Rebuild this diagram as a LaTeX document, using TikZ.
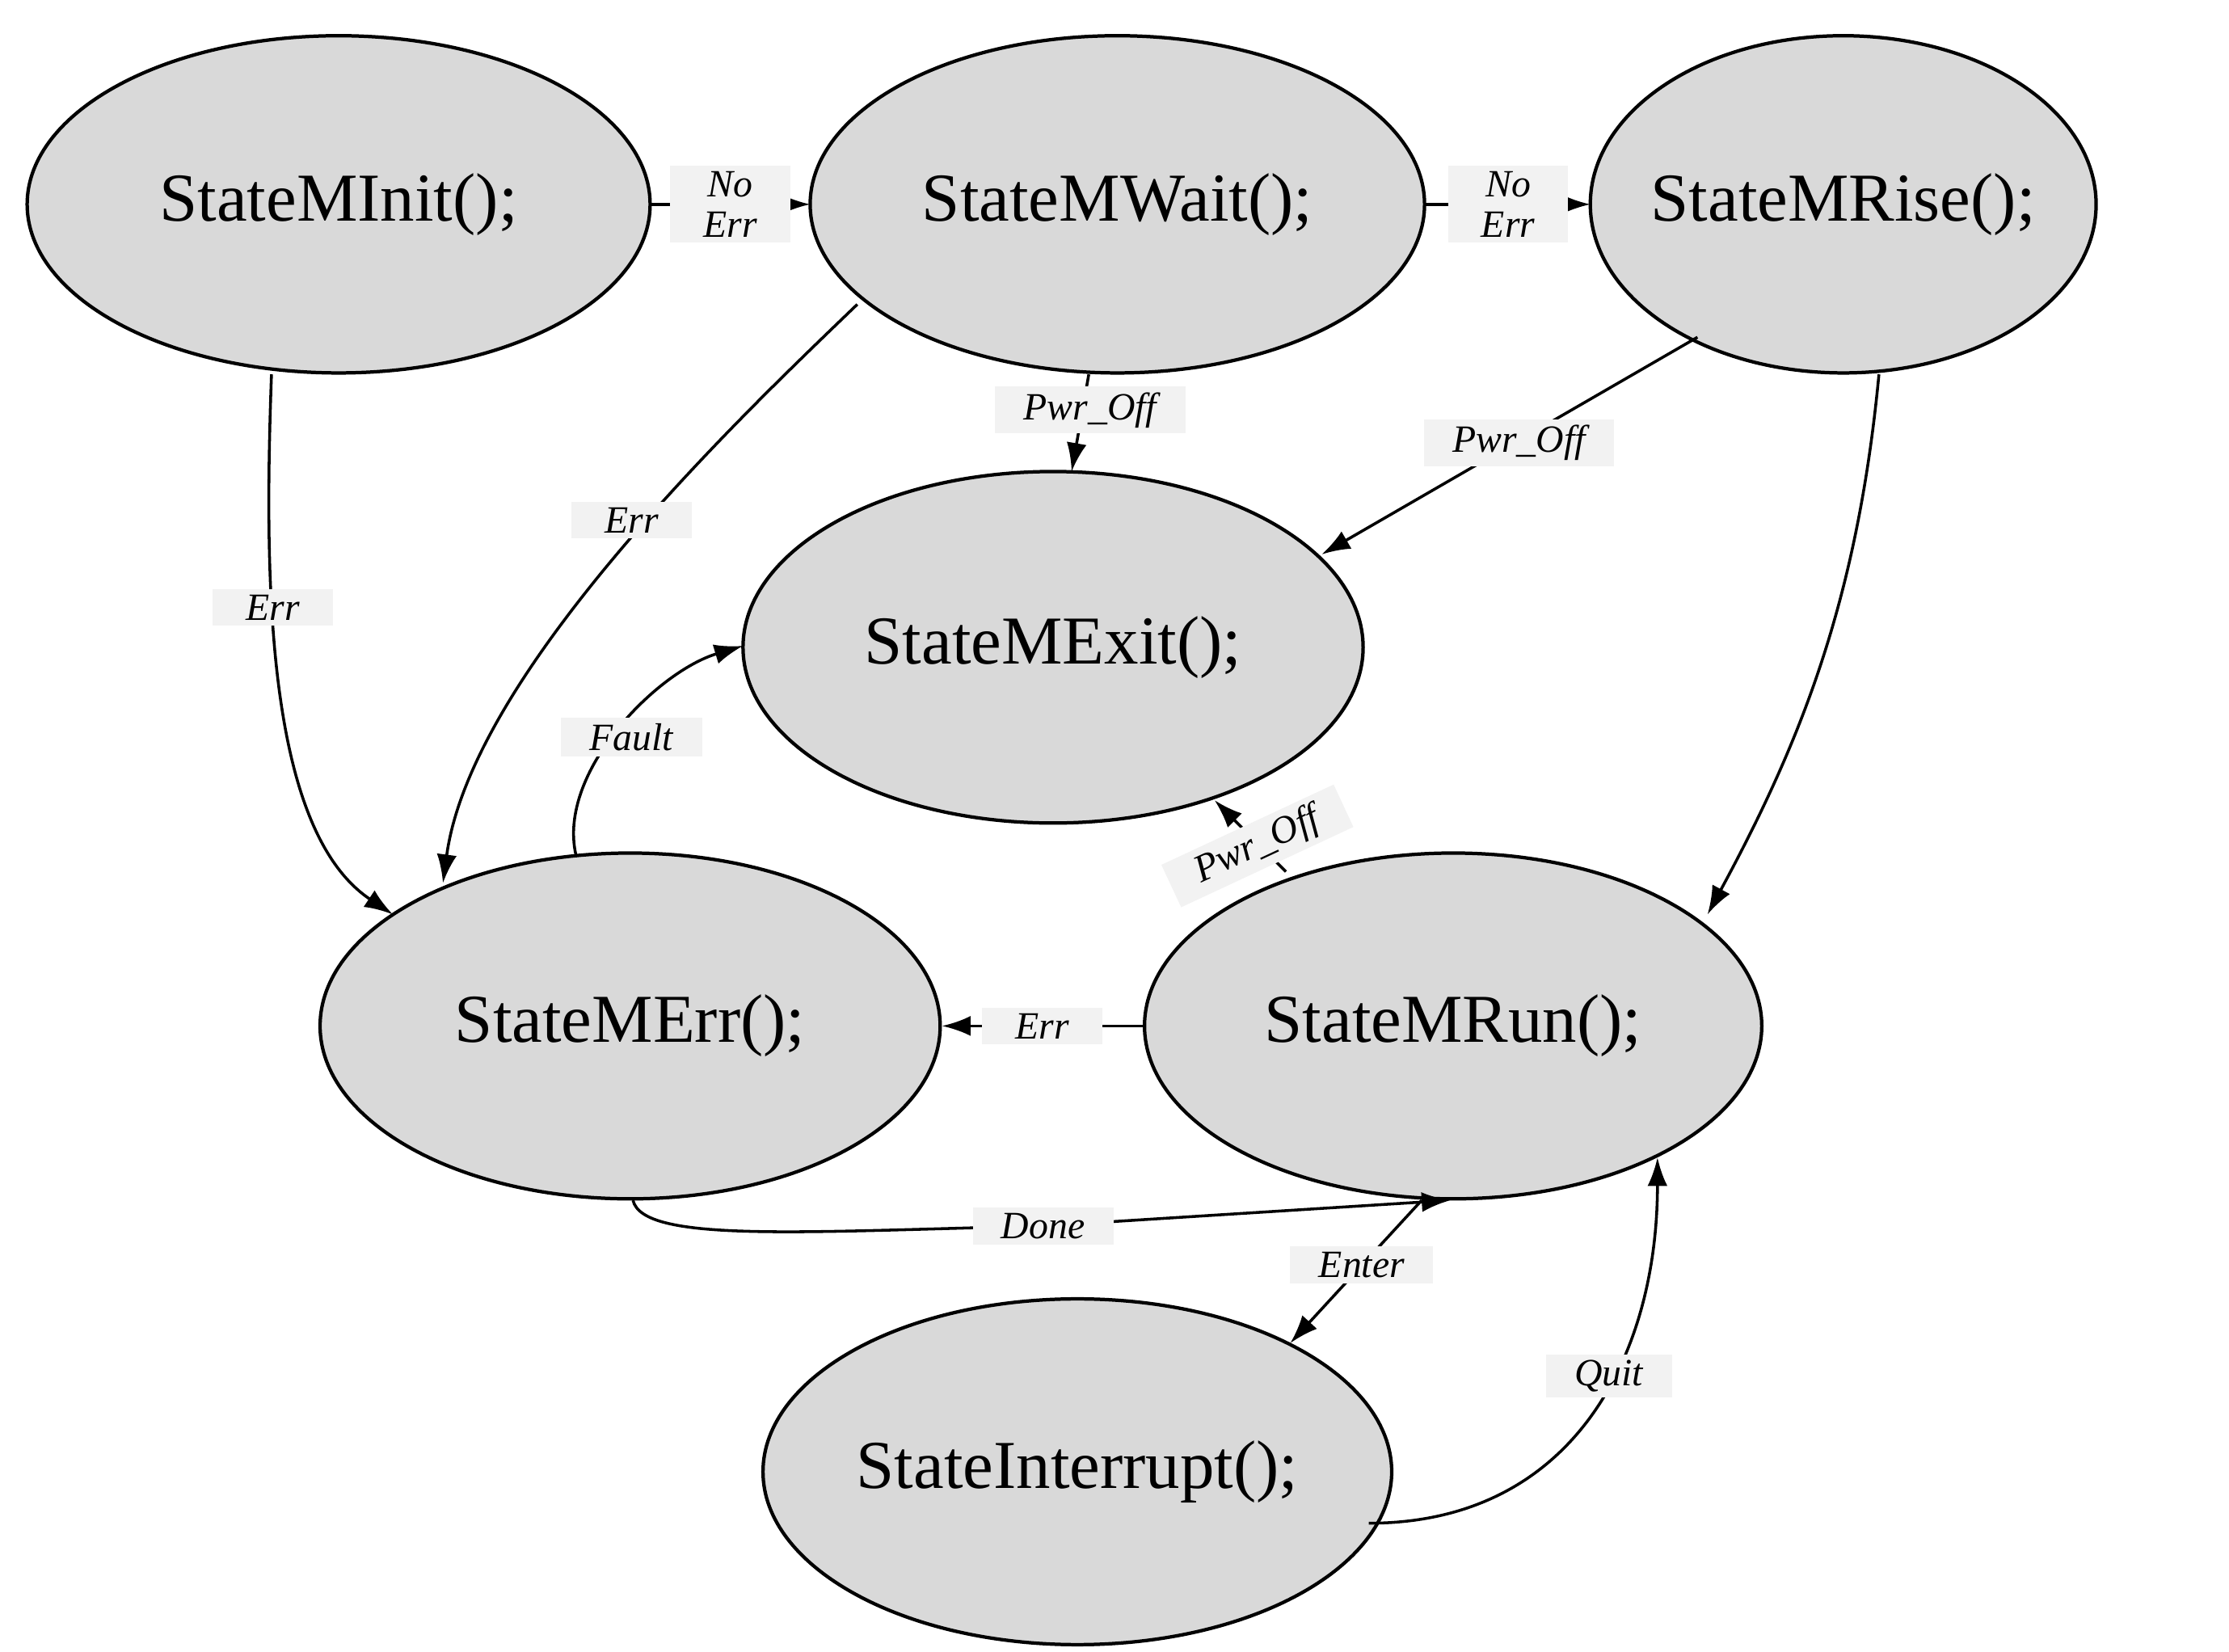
\documentclass[tikz,border=0pt]{standalone}
\usepackage{fontspec}
\setmainfont{Liberation Serif}
\usetikzlibrary{shapes.geometric,arrows.meta}
\begin{document}
\begin{tikzpicture}[x=0.5pt,y=-0.5pt,
 st/.style={ellipse,draw,line width=1.2pt,fill=gray!30,font=\fontsize{24}{28}\selectfont,inner sep=0pt},
 lb/.style={fill=gray!10,font=\itshape\fontsize{13.5}{14}\selectfont,inner xsep=10pt,inner ysep=2pt,minimum width=42pt,align=center},
 ar/.style={-{Latex[length=10pt,width=7pt]},line width=1pt}]
\useasboundingbox (0,0) rectangle (1560,1156);
\node[st,minimum width=218pt,minimum height=118pt] (init) at (237,143) {StateMInit();};
\node[st,minimum width=215pt,minimum height=118pt] (wait) at (782,143) {StateMWait();};
\node[st,minimum width=177pt,minimum height=118pt,inner xsep=-14pt] (rise) at (1290,143) {StateMRise();};
\node[st,minimum width=217pt,minimum height=123pt] (exit) at (737,453) {StateMExit();};
\node[st,minimum width=217pt,minimum height=121pt] (err) at (441,718) {StateMErr();};
\node[st,minimum width=216pt,minimum height=121pt] (run) at (1017,718) {StateMRun();};
\node[st,minimum width=220pt,minimum height=121pt] (intr) at (754,1030) {StateInterrupt();};
\coordinate (a1) at (190,262); \coordinate (a2) at (275,640);
\coordinate (b1) at (600,213); \coordinate (b2) at (310,618);
\coordinate (c1) at (762,262); \coordinate (c2) at (750,330);
\coordinate (d1) at (1188,236); \coordinate (d2) at (925,388);
\coordinate (e1) at (1315,262); \coordinate (e2) at (1195,640);
\coordinate (f1) at (403,598); \coordinate (f2) at (520,452);
\coordinate (g1) at (900,610); \coordinate (g2) at (850,560);
\coordinate (h1) at (443,840); \coordinate (h2) at (1015,840);
\coordinate (i1) at (995,840); \coordinate (i2) at (903,940);
\coordinate (j1) at (958,1066); \coordinate (j2) at (1160,810);
\coordinate (k1) at (455,143); \coordinate (k2) at (567,143);
\coordinate (l1) at (998,143); \coordinate (l2) at (1113,143);
\draw[ar] (k1) -- node[lb]{No\\Err} (k2);
\draw[ar] (l1) -- node[lb]{No\\Err} (l2);
\draw[ar] (a1) .. controls (185,400) and (185,580) .. (a2);
\node[lb] at (191,425) {Err};
\draw[ar] (b1) .. controls (520,290) and (330,470) .. (b2);
\node[lb] at (442,364) {Err};
\draw[ar] (c1) -- (c2);
\node[lb] at (763,287) {Pwr\_Off};
\draw[ar] (d1) -- (d2);
\node[lb] at (1063,310) {Pwr\_Off};
\draw[ar] (e1) .. controls (1300,420) and (1260,520) .. (e2);
\draw[ar] (f1) .. controls (390,540) and (460,470) .. (f2);
\node[lb] at (442,516) {Fault};
\draw[ar] (g1) -- (g2);
\node[lb,rotate=25] at (880,592) {Pwr\_Off};
\draw[ar] (run.west) -- node[lb]{Err} (err.east);
\draw[ar] (h1) .. controls (450,870) and (560,862) .. (730,858) -- (h2);
\node[lb] at (730,858) {Done};
\draw[ar] (i1) -- (i2);
\node[lb] at (953,885) {Enter};
\draw[ar] (j1) .. controls (1100,1066) and (1160,950) .. (j2);
\node[lb] at (1126,963) {Quit};
\end{tikzpicture}
\end{document}
